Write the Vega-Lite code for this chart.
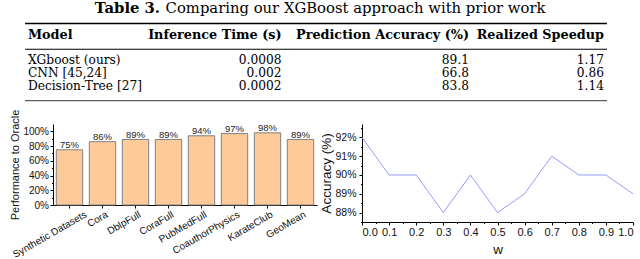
{
  "$schema": "https://vega.github.io/schema/vega-lite/v6.json",
  "background": "white",
  "padding": {"left": 9, "top": 0, "right": 0, "bottom": 0},
  "config": {
    "view": {"stroke": null},
    "font": "Liberation Sans",
    "axis": {"domainColor": "#000", "tickColor": "#000", "labelColor": "#111", "titleColor": "#111", "grid": false, "titleFontWeight": "normal", "labelFont": "Liberation Sans", "titleFont": "Liberation Sans"}
  },
  "datasets": {
    "table": [
      {"line": 1, "Model": "Model", "Inference": "Inference Time (s)", "Accuracy": "Prediction Accuracy (%)", "Speedup": "Realized Speedup"},
      {"line": 3, "Model": "XGboost (ours)", "Inference": "0.0008", "Accuracy": "89.1", "Speedup": "1.17"},
      {"line": 4, "Model": "CNN [45,24]", "Inference": "0.002", "Accuracy": "66.8", "Speedup": "0.86"},
      {"line": 5, "Model": "Decision-Tree [27]", "Inference": "0.0002", "Accuracy": "83.8", "Speedup": "1.14"}
    ],
    "rules": [
      {"line": 0, "rule": "top"},
      {"line": 2, "rule": "mid"},
      {"line": 6, "rule": "bottom"}
    ],
    "bars": [
      {"dataset": "Synthetic Datasets", "perf": 0.75},
      {"dataset": "Cora", "perf": 0.86},
      {"dataset": "DblpFull", "perf": 0.89},
      {"dataset": "CoraFull", "perf": 0.89},
      {"dataset": "PubMedFull", "perf": 0.94},
      {"dataset": "CoauthorPhysics", "perf": 0.97},
      {"dataset": "KarateClub", "perf": 0.98},
      {"dataset": "GeoMean", "perf": 0.89}
    ],
    "acc": [
      {"w": 0.0, "acc": 0.92},
      {"w": 0.1, "acc": 0.90},
      {"w": 0.2, "acc": 0.90},
      {"w": 0.3, "acc": 0.88},
      {"w": 0.4, "acc": 0.90},
      {"w": 0.5, "acc": 0.88},
      {"w": 0.6, "acc": 0.89},
      {"w": 0.7, "acc": 0.91},
      {"w": 0.8, "acc": 0.90},
      {"w": 0.9, "acc": 0.90},
      {"w": 1.0, "acc": 0.89}
    ]
  },
  "spacing": 7,
  "vconcat": [
    {
      "width": 554,
      "height": 102,
      "layer": [
        {
          "data": {"name": "rules"},
          "mark": {"type": "rule", "color": "#000"},
          "encoding": {
            "x": {"datum": 0, "type": "quantitative", "scale": {"domain": [0.0481, 1], "nice": false, "zero": false}, "axis": null},
            "x2": {"datum": 1},
            "y": {"field": "line", "type": "quantitative", "scale": {"domain": [-1.826, 6.1], "reverse": true, "nice": false, "zero": false}, "axis": null},
            "strokeWidth": {"field": "rule", "type": "nominal", "scale": {"domain": ["top", "mid", "bottom"], "range": [1.6, 0.8, 1.6]}, "legend": null}
          }
        },
        {
          "data": {"values": [{"t": "Table 3."}]},
          "mark": {"type": "text", "font": "DejaVu Serif", "fontWeight": "bold", "fontSize": 14.8, "align": "right", "baseline": "middle", "dy": -2, "color": "#000"},
          "encoding": {
            "x": {"datum": 0.232, "type": "quantitative", "axis": null},
            "y": {"datum": -1.0, "type": "quantitative", "axis": null},
            "text": {"field": "t"}
          }
        },
        {
          "data": {"values": [{"t": "Comparing our XGBoost approach with prior work"}]},
          "mark": {"type": "text", "font": "DejaVu Serif", "fontSize": 14.8, "align": "left", "baseline": "middle", "dy": -2, "color": "#000"},
          "encoding": {
            "x": {"datum": 0.2416, "type": "quantitative", "axis": null},
            "y": {"datum": -1.0, "type": "quantitative", "axis": null},
            "text": {"field": "t"}
          }
        },
        {
          "data": {"name": "table"},
          "transform": [{"filter": "datum.line == 1"}],
          "mark": {"type": "text", "font": "DejaVu Serif", "fontWeight": "bold", "fontSize": 12.8, "align": "left", "baseline": "middle", "dy": -1, "color": "#000"},
          "encoding": {"x": {"datum": 0.005, "type": "quantitative", "axis": null}, "y": {"field": "line", "type": "quantitative", "axis": null}, "text": {"field": "Model"}}
        },
        {
          "data": {"name": "table"},
          "transform": [{"filter": "datum.line == 1"}],
          "mark": {"type": "text", "font": "DejaVu Serif", "fontWeight": "bold", "fontSize": 12.8, "align": "right", "baseline": "middle", "dy": -1, "color": "#000"},
          "encoding": {"x": {"datum": 0.4407, "type": "quantitative", "axis": null}, "y": {"field": "line", "type": "quantitative", "axis": null}, "text": {"field": "Inference"}}
        },
        {
          "data": {"name": "table"},
          "transform": [{"filter": "datum.line == 1"}],
          "mark": {"type": "text", "font": "DejaVu Serif", "fontWeight": "bold", "fontSize": 12.8, "align": "right", "baseline": "middle", "dy": -1, "color": "#000"},
          "encoding": {"x": {"datum": 0.7629, "type": "quantitative", "axis": null}, "y": {"field": "line", "type": "quantitative", "axis": null}, "text": {"field": "Accuracy"}}
        },
        {
          "data": {"name": "table"},
          "transform": [{"filter": "datum.line == 1"}],
          "mark": {"type": "text", "font": "DejaVu Serif", "fontWeight": "bold", "fontSize": 12.8, "align": "right", "baseline": "middle", "dy": -1, "color": "#000"},
          "encoding": {"x": {"datum": 0.9948, "type": "quantitative", "axis": null}, "y": {"field": "line", "type": "quantitative", "axis": null}, "text": {"field": "Speedup"}}
        },
        {
          "data": {"name": "table"},
          "transform": [{"filter": "datum.line > 1"}],
          "mark": {"type": "text", "font": "DejaVu Serif", "fontSize": 12.2, "align": "left", "baseline": "middle", "dy": -2, "color": "#000"},
          "encoding": {"x": {"datum": 0.005, "type": "quantitative", "axis": null}, "y": {"field": "line", "type": "quantitative", "axis": null}, "text": {"field": "Model"}}
        },
        {
          "data": {"name": "table"},
          "transform": [{"filter": "datum.line > 1"}],
          "mark": {"type": "text", "font": "DejaVu Serif", "fontSize": 12.2, "align": "right", "baseline": "middle", "dy": -2, "color": "#000"},
          "encoding": {"x": {"datum": 0.4407, "type": "quantitative", "axis": null}, "y": {"field": "line", "type": "quantitative", "axis": null}, "text": {"field": "Inference"}}
        },
        {
          "data": {"name": "table"},
          "transform": [{"filter": "datum.line > 1"}],
          "mark": {"type": "text", "font": "DejaVu Serif", "fontSize": 12.2, "align": "right", "baseline": "middle", "dy": -2, "color": "#000"},
          "encoding": {"x": {"datum": 0.7629, "type": "quantitative", "axis": null}, "y": {"field": "line", "type": "quantitative", "axis": null}, "text": {"field": "Accuracy"}}
        },
        {
          "data": {"name": "table"},
          "transform": [{"filter": "datum.line > 1"}],
          "mark": {"type": "text", "font": "DejaVu Serif", "fontSize": 12.2, "align": "right", "baseline": "middle", "dy": -2, "color": "#000"},
          "encoding": {"x": {"datum": 0.9948, "type": "quantitative", "axis": null}, "y": {"field": "line", "type": "quantitative", "axis": null}, "text": {"field": "Speedup"}}
        }
      ]
    },
    {
      "spacing": 2,
      "hconcat": [
        {
          "width": 264,
          "height": 81,
          "data": {"name": "bars"},
          "encoding": {
            "x": {"field": "dataset", "type": "nominal", "sort": null, "scale": {"paddingInner": 0.2, "paddingOuter": 0.1}, "axis": {"title": null, "labelAngle": -30, "labelFontSize": 10, "tickSize": 3, "labelPadding": 1, "labelColor": "#111", "labelOffset": {"condition": {"test": "datum.value == 'Synthetic Datasets'", "value": 14}, "value": 2}}},
            "y": {"field": "perf", "type": "quantitative", "scale": {"domain": [0, 1.1], "nice": false}, "axis": {"title": "Performance to Oracle", "titleFontSize": 11, "titlePadding": 2, "values": [0, 0.1, 0.2, 0.3, 0.4, 0.5, 0.6, 0.7, 0.8, 0.9, 1.0], "format": ".0%", "labelExpr": "round(datum.value*100) % 20 == 0 ? datum.label : ''", "tickSize": {"condition": {"test": "round(datum.value*100) % 20 == 0", "value": 3}, "value": 1.5}, "labelFontSize": 10, "labelPadding": 1.5}}
          },
          "layer": [
            {"mark": {"type": "bar", "fill": "#FFCA99", "stroke": "#808080", "strokeWidth": 1}},
            {"mark": {"type": "text", "baseline": "alphabetic", "dy": -1.5, "fontSize": 9.5, "color": "#222"}, "encoding": {"text": {"field": "perf", "type": "quantitative", "format": ".0%"}}}
          ]
        },
        {
          "width": 271,
          "height": 98,
          "data": {"name": "acc"},
          "mark": {"type": "line", "color": "#9999FF", "strokeWidth": 1},
          "encoding": {
            "x": {"field": "w", "type": "quantitative", "scale": {"domain": [0, 1], "nice": false}, "axis": {"title": "w", "titleFontSize": 13.5, "titlePadding": 5, "values": [0, 0.05, 0.1, 0.15, 0.2, 0.25, 0.3, 0.35, 0.4, 0.45, 0.5, 0.55, 0.6, 0.65, 0.7, 0.75, 0.8, 0.85, 0.9, 0.95, 1.0], "format": ".1f", "labelExpr": "round(datum.value*100) % 10 == 0 ? datum.label : ''", "tickSize": {"condition": {"test": "round(datum.value*100) % 10 == 0", "value": 3}, "value": 1.5}, "labelFontSize": 11, "labelPadding": 1.5}},
            "y": {"field": "acc", "type": "quantitative", "scale": {"domain": [0.875, 0.9271], "nice": false, "zero": false}, "axis": {"title": "Accuracy (%)", "titleFontSize": 13.5, "titlePadding": 1, "values": [0.875, 0.88, 0.885, 0.89, 0.895, 0.9, 0.905, 0.91, 0.915, 0.92, 0.925], "format": ".0%", "labelExpr": "round(datum.value*1000) % 10 == 0 ? datum.label : ''", "tickSize": {"condition": {"test": "round(datum.value*1000) % 10 == 0", "value": 3}, "value": 1.5}, "labelFontSize": 10.5, "labelPadding": 3}}
          }
        }
      ]
    }
  ]
}
